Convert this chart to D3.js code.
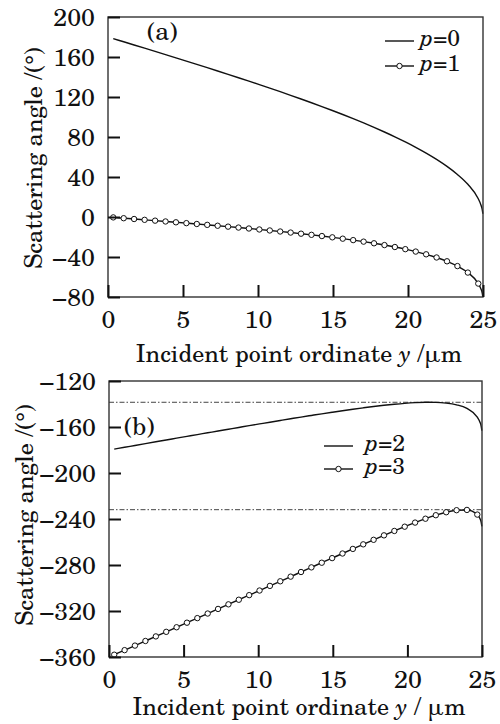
<!DOCTYPE html>
<meta charset='utf-8'>
<title>Scattering angle vs incident point</title>
<style>
body {
  margin: 0;
  background-color: #fff;
}
</style>
<svg width="500" height="724"></svg>
<script src="https://d3js.org/d3.v7.min.js"></script>
<script>

// incident point ordinate y (um); the first 36 points carry markers
var yInc = [0.35, 1.045, 1.74, 2.44, 3.14, 3.835, 4.53, 5.225, 5.92, 6.615,
            7.31, 8.005, 8.7, 9.395, 10.09, 10.785, 11.48, 12.175, 12.87, 13.565,
            14.26, 14.955, 15.65, 16.345, 17.04, 17.735, 18.43, 19.125, 19.82, 20.515,
            21.21, 21.905, 22.6, 23.295, 23.99, 24.685, 24.85, 24.95, 24.99];
var nMarkers = 36;

// scattering angle (deg)
var p0 = [178.40, 175.21, 172.02, 168.80, 165.57, 162.35, 159.12, 155.87, 152.60, 149.31,
          146.00, 142.65, 139.27, 135.85, 132.39, 128.89, 125.33, 121.71, 118.03, 114.28,
          110.44, 106.52, 102.49, 98.34, 94.06, 89.63, 85.01, 80.19, 75.10, 69.71,
          63.92, 57.63, 50.62, 42.57, 32.68, 18.21, 12.56, 7.25, 3.24];
var p1 = [-0.40, -1.21, -2.01, -2.83, -3.65, -4.47, -5.30, -6.14, -6.99, -7.86,
          -8.74, -9.64, -10.56, -11.50, -12.47, -13.46, -14.50, -15.56, -16.68, -17.83,
          -19.05, -20.33, -21.67, -23.11, -24.64, -26.28, -28.06, -30.01, -32.16, -34.57,
          -37.30, -40.48, -44.29, -49.07, -55.58, -66.58, -71.39, -76.18, -79.99];
var p2 = [-179.20, -177.62, -176.05, -174.46, -172.87, -171.29, -169.72, -168.15, -166.59, -165.03,
          -163.47, -161.92, -160.38, -158.85, -157.33, -155.82, -154.32, -152.84, -151.38, -149.95,
          -148.54, -147.17, -145.84, -144.56, -143.34, -142.19, -141.14, -140.21, -139.42, -138.84,
          -138.53, -138.59, -139.21, -140.71, -143.85, -151.37, -155.34, -159.62, -163.21];
var p3 = [-358.00, -354.04, -350.08, -346.08, -342.09, -338.12, -334.14, -330.17, -326.19, -322.20,
          -318.21, -314.21, -310.21, -306.20, -302.19, -298.17, -294.15, -290.12, -286.09, -282.06,
          -278.03, -274.01, -270.00, -266.01, -262.04, -258.10, -254.22, -250.40, -246.69, -243.12,
          -239.75, -236.70, -234.12, -232.35, -232.11, -236.16, -239.28, -243.05, -246.44];

// rainbow angles (dash-dot lines in panel b)
var rainbowLevels = [-138.5, -231.9];

var xTicks = [0, 5, 10, 15, 20, 25];
var yTicksA = [200, 160, 120, 80, 40, 0, -40, -80];
var yTicksB = [-120, -160, -200, -240, -280, -320, -360];

var FONT = "'TeX Gyre Schola', 'C059', 'Century Schoolbook L', 'DejaVu Serif', 'Liberation Serif', 'Noto Serif', 'Tinos', 'Times New Roman', 'Nimbus Roman', 'FreeSerif', serif";
var svg = d3.select("svg");
var fmt = function(d) { return d < 0 ? "\u2212" + (-d) : String(d); };

function drawPanel(cfg) {
  var x = d3.scaleLinear().domain([0, 25]).range([cfg.left, cfg.right]);
  var y = d3.scaleLinear().domain(cfg.yDomain).range([cfg.bottom, cfg.top]);
  var g = svg.append("g");

  // reference lines first so curves sit on top
  (cfg.hlines || []).forEach(function(v) {
    g.append("line")
        .attr("x1", x(0)).attr("x2", x(25))
        .attr("y1", y(v)).attr("y2", y(v))
        .attr("stroke", "#444")
        .attr("stroke-width", 1)
        .attr("stroke-dasharray", "5,2,1.5,2");
  });

  var line = d3.line()
      .x(function(d) { return x(d[0]); })
      .y(function(d) { return y(d[1]); })
      .curve(d3.curveMonotoneX);

  cfg.series.forEach(function(s) {
    var pts = yInc.map(function(v, i) { return [v, s.values[i]]; });
    g.append("path")
        .attr("d", line(pts))
        .attr("fill", "none")
        .attr("stroke", "#111")
        .attr("stroke-width", 1.4);
    if (s.markers) {
      g.selectAll(null)
          .data(pts.slice(0, nMarkers))
        .enter().append("circle")
          .attr("cx", function(d) { return x(d[0]); })
          .attr("cy", function(d) { return y(d[1]); })
          .attr("r", 2.7)
          .attr("fill", "#fff")
          .attr("stroke", "#111")
          .attr("stroke-width", 1);
    }
  });

  // frame
  g.append("rect")
      .attr("x", cfg.left).attr("y", cfg.top)
      .attr("width", cfg.right - cfg.left)
      .attr("height", cfg.bottom - cfg.top)
      .attr("fill", "none")
      .attr("stroke", "#333")
      .attr("stroke-width", 1.4);

  var gx = g.append("g")
      .attr("transform", "translate(0," + cfg.bottom + ")")
      .call(d3.axisBottom(x).tickValues(xTicks).tickSize(-12).tickPadding(13).tickFormat(fmt));
  var gy = g.append("g")
      .attr("transform", "translate(" + cfg.left + ",0)")
      .call(d3.axisLeft(y).tickValues(cfg.yTicks).tickSize(-12).tickPadding(13).tickFormat(fmt));

  [gx, gy].forEach(function(a) {
    a.select(".domain").remove();
    a.attr("font-family", FONT).attr("font-size", 25);
    a.selectAll(".tick line").attr("stroke", "#111").attr("stroke-width", 2);
    a.selectAll(".tick text").attr("fill", "#111");
  });

  // x label
  var xl = g.append("text")
      .attr("x", 299).attr("y", cfg.xLabelY)
      .attr("text-anchor", "middle")
      .attr("font-family", FONT)
      .attr("font-size", 24)
      .attr("fill", "#111");
  xl.append("tspan").text("Incident point ordinate ");
  xl.append("tspan").attr("font-style", "italic").text("y");
  xl.append("tspan").text(cfg.unit);

  // y label
  g.append("text")
      .attr("transform", "translate(" + cfg.yLabelX + "," + cfg.yLabelMid + ") rotate(-90)")
      .attr("text-anchor", "middle")
      .attr("font-family", FONT)
      .attr("font-size", 24)
      .attr("fill", "#111")
      .text("Scattering angle /(\u00b0)");

  // panel tag
  g.append("text")
      .attr("x", cfg.tag[1]).attr("y", cfg.tag[2])
      .attr("font-family", FONT)
      .attr("font-size", 25)
      .attr("fill", "#111")
      .text(cfg.tag[0]);

  // legend
  cfg.legend.rows.forEach(function(r, i) {
    var ly = cfg.legend.y + i * cfg.legend.dy;
    var lx = cfg.legend.x;
    g.append("line")
        .attr("x1", lx).attr("x2", lx + 29)
        .attr("y1", ly).attr("y2", ly)
        .attr("stroke", "#111").attr("stroke-width", 1.4);
    if (r.marker) {
      g.append("circle")
          .attr("cx", lx + 14.5).attr("cy", ly).attr("r", 2.7)
          .attr("fill", "#fff").attr("stroke", "#111");
    }
    g.append("text")
        .attr("x", lx + cfg.legend.gap).attr("y", ly + 5)
        .attr("font-family", FONT)
        .attr("font-size", 23)
        .attr("fill", "#111")
        .html("<tspan font-style='italic'>p</tspan>=" + r.p);
  });
}

drawPanel({
  left: 108, right: 483, top: 17, bottom: 297,
  yDomain: [-80, 200], yTicks: yTicksA,
  series: [{ values: p0 }, { values: p1, markers: true }],
  xLabelY: 362, unit: " /\u03bcm",
  yLabelX: 42, yLabelMid: 158,
  tag: ["(a)", 147, 40],
  legend: { x: 385, y: 41, dy: 25, gap: 35, rows: [{ p: 0 }, { p: 1, marker: true }] }
});

drawPanel({
  left: 109, right: 482, top: 381, bottom: 657,
  yDomain: [-360, -120], yTicks: yTicksB,
  hlines: rainbowLevels,
  series: [{ values: p2 }, { values: p3, markers: true }],
  xLabelY: 715, unit: " / \u03bcm",
  yLabelX: 33, yLabelMid: 515,
  tag: ["(b)", 124, 435],
  legend: { x: 324, y: 446, dy: 23, gap: 41, rows: [{ p: 2 }, { p: 3, marker: true }] }
});

</script>
